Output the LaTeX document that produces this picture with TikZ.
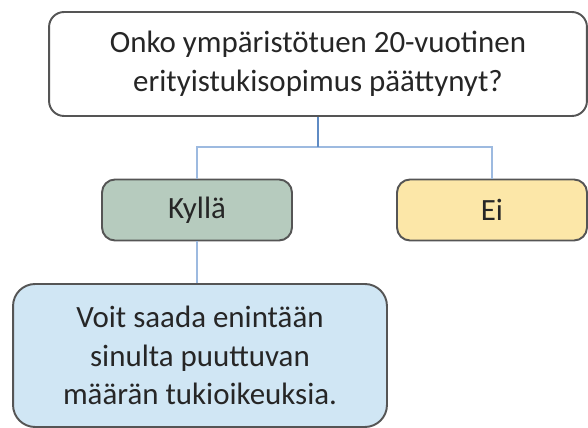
\documentclass[tikz,border=0pt]{standalone}
\usepackage{fontspec}
\setmainfont{Carlito}
\usepackage{xcolor}
\definecolor{kyllagreen}{HTML}{B6CBBE}
\definecolor{eiyellow}{HTML}{FCE7A8}
\definecolor{voitblue}{HTML}{D0E6F4}
\definecolor{linkblue}{HTML}{9DBAE0}
\definecolor{stemblue}{HTML}{5F8BC4}
\definecolor{boxgrey}{HTML}{555555}
\definecolor{textgrey}{HTML}{262626}
\tikzset{
  box/.style={draw=boxgrey, line width=1.1pt, rounded corners=0.26cm, align=center,
    text=textgrey, inner sep=0pt, font=\fontsize{17.6}{22}\selectfont},
  link/.style={draw=linkblue, line width=0.9pt}
}

\begin{document}
\begin{tikzpicture}[x=0.02cm, y=-0.02cm]
\useasboundingbox (0,0) rectangle (588,428);
\node [box, fill=white, rounded corners=0.3cm, minimum width=10.76cm, minimum height=2.08cm]
  (question) at (318,64) {Onko ympäristötuen 20-vuotinen\\ erityistukisopimus päättynyt?};
\node [box, fill=kyllagreen, minimum width=3.8cm, minimum height=1.22cm] (kylla) at (197,210) {Kyllä};
\node [box, fill=eiyellow, minimum width=3.8cm, minimum height=1.22cm] (ei) at (492,210) {Ei};
\node [box, fill=voitblue, rounded corners=0.44cm, minimum width=7.48cm, minimum height=2.86cm]
  (voit) at (200,355.5) {Voit saada enintään\\ sinulta puuttuvan\\ määrän tukioikeuksia.};
\coordinate (fork) at (question.south |- 0,147);
\draw [link] (kylla.north) |- (fork) -| (ei.north);
\draw [draw=stemblue, line width=0.9pt] (question.south) -- (fork);
\draw [link] (kylla.south) -- (voit.north -| kylla.south);
\end{tikzpicture}
\end{document}
